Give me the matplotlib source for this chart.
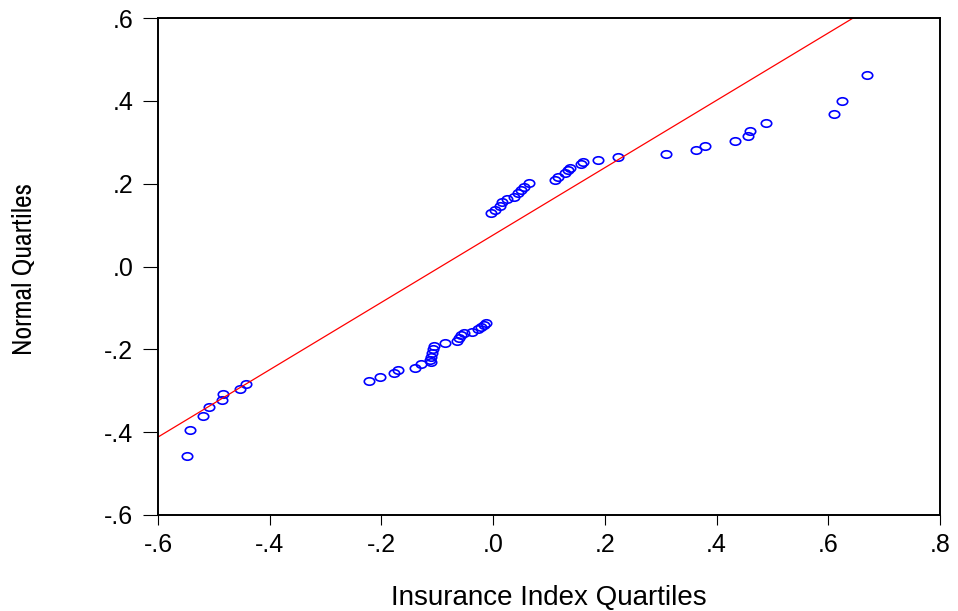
import matplotlib
matplotlib.use("Agg")
import matplotlib.pyplot as plt
import numpy as np
from matplotlib.path import Path
from matplotlib.ticker import FuncFormatter

# Insurance index quantiles (x) vs normal quantiles (y)
insurance_q = [
    -0.548, -0.543, -0.519, -0.508, -0.485, -0.483, -0.453, -0.443,
    -0.222, -0.202, -0.178, -0.171, -0.140, -0.130, -0.112, -0.113,
    -0.111, -0.110, -0.108, -0.106, -0.087, -0.065, -0.062, -0.058,
    -0.052, -0.037, -0.027, -0.021, -0.016, -0.012,
    -0.003, 0.003, 0.012, 0.016, 0.025, 0.038, 0.044, 0.050, 0.056, 0.065,
    0.111, 0.117, 0.129, 0.134, 0.137, 0.158, 0.161, 0.188, 0.223,
    0.309, 0.363, 0.379, 0.433, 0.457, 0.460, 0.488, 0.611, 0.624, 0.670,
]
normal_q = [
    -0.457, -0.395, -0.362, -0.340, -0.323, -0.308, -0.296, -0.284,
    -0.276, -0.267, -0.258, -0.251, -0.244, -0.236, -0.231, -0.226,
    -0.218, -0.210, -0.200, -0.192, -0.185, -0.179, -0.172, -0.165,
    -0.160, -0.158, -0.152, -0.147, -0.142, -0.137,
    0.128, 0.136, 0.146, 0.156, 0.162, 0.168, 0.177, 0.185, 0.193, 0.201,
    0.209, 0.215, 0.225, 0.233, 0.239, 0.247, 0.253, 0.257, 0.264,
    0.272, 0.281, 0.291, 0.302, 0.314, 0.328, 0.346, 0.368, 0.400, 0.462,
]
line_slope = 0.813
line_intercept = 0.076

x_ticks = [-0.6, -0.4, -0.2, 0.0, 0.2, 0.4, 0.6, 0.8]
y_ticks = [-0.6, -0.4, -0.2, 0.0, 0.2, 0.4, 0.6]

def fmt(v, pos=None):
    s = f"{v:.1f}"
    if s.startswith("-0"):
        return "-" + s[2:]
    if s.startswith("0"):
        return s[1:]
    return s

plt.rcParams['font.family'] = ['Liberation Sans', 'DejaVu Sans']

fig = plt.figure(figsize=(9.58, 6.11), dpi=100)
ax = fig.add_axes([158/958, 1 - 515/611, (940-158)/958, (515-18)/611])

circ = Path.unit_circle()
ell = Path(circ.vertices * np.array([1.4, 1.0]), circ.codes)

ax.plot(insurance_q, normal_q, linestyle='none', marker=ell, markersize=7.5,
        markerfacecolor='none', markeredgecolor='#0000ff', markeredgewidth=1.2)

xl = np.array([-0.6, 0.8])
ax.plot(xl, line_slope * xl + line_intercept, color='#ff0000', linewidth=0.9)

ax.set_xlim(-0.6, 0.8)
ax.set_ylim(-0.6, 0.6)
ax.set_xticks(x_ticks)
ax.set_yticks(y_ticks)
ax.xaxis.set_major_formatter(FuncFormatter(fmt))
ax.yaxis.set_major_formatter(FuncFormatter(fmt))
ax.tick_params(axis='both', direction='out', width=0.8, labelsize=18, top=False, right=False)
ax.tick_params(axis='x', length=7.2, pad=6)
ax.tick_params(axis='y', length=10.8, pad=7)
for sp in ax.spines.values():
    sp.set_linewidth(1.4)
    sp.set_color('black')

ax.set_xlabel("Insurance Index Quartiles", fontsize=20)
ax.xaxis.set_label_coords(0.5, (515 - 598) / 497)
ax.xaxis.label.set_va('center')

ax.set_ylabel("Normal Quartiles", fontsize=20,
              family=['Liberation Sans Narrow', 'Archivo Narrow', 'Roboto Condensed', 'Liberation Sans'])
ax.yaxis.set_label_coords((25 - 158) / 782, (515 - 269) / 497)
ax.yaxis.label.set_va('center')

fig.savefig("out.png", dpi=100)
